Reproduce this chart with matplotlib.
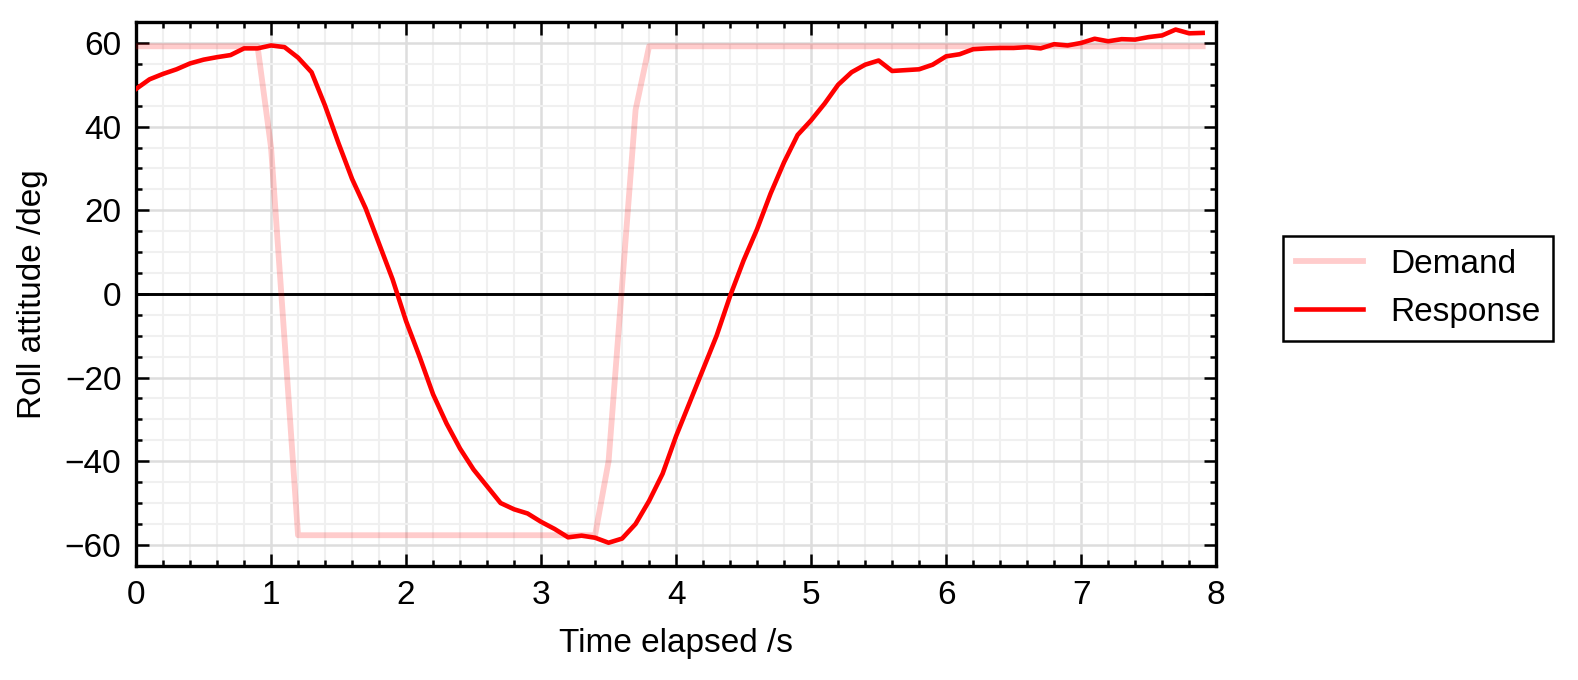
import numpy as np
import matplotlib
matplotlib.use("Agg")
import matplotlib.pyplot as plt
from matplotlib.ticker import MultipleLocator

# demand (setpoint) roll angle, deg
demand_t = [0.0, 0.9, 1.0, 1.1, 1.2, 3.4, 3.5, 3.6, 3.7, 3.8, 7.9]
demand_deg = [59.2, 59.2, 35.0, -11.0, -57.7, -57.7, -40.0, 2.0, 44.0, 59.2, 59.2]

# measured roll response, sampled every 0.1 s
response_t = [round(0.1 * i, 1) for i in range(80)]
response_deg = [
    49.0, 51.3, 52.6, 53.7, 55.1, 56.0, 56.6, 57.1, 58.7, 58.7,
    59.4, 59.0, 56.5, 53.0, 45.0, 36.0, 27.5, 20.5, 12.0, 3.5,
    -6.5, -15.0, -24.0, -31.0, -37.0, -42.0, -46.0, -50.0, -51.5, -52.5,
    -54.5, -56.2, -58.2, -57.8, -58.3, -59.5, -58.5, -55.0, -49.5, -43.0,
    -34.0, -26.0, -18.0, -10.0, -0.5, 8.0, 15.5, 24.0, 31.5, 38.0,
    41.5, 45.5, 50.0, 53.0, 54.8, 55.8, 53.3, 53.5, 53.7, 54.8,
    56.8, 57.3, 58.5, 58.7, 58.8, 58.8, 59.0, 58.7, 59.7, 59.4,
    60.0, 61.0, 60.4, 60.9, 60.8, 61.4, 61.8, 63.2, 62.3, 62.4,
]

plt.rcParams['font.family'] = ['Liberation Sans', 'DejaVu Sans']
plt.rcParams['font.size'] = 8

fig = plt.figure(figsize=(1578 / 300, 680 / 300), dpi=300)
ax = fig.add_axes([0.0862, 0.168, 0.6845, 0.7996])

ax.plot(demand_t, demand_deg, color='red', alpha=0.2, lw=1.4, label='Demand', zorder=3)
ax.plot(response_t, response_deg, color='red', lw=1.1, label='Response', zorder=4)
ax.axhline(0, color='black', lw=0.7, zorder=2)

ax.set_xlim(0, 8)
ax.set_ylim(-65, 65)
ax.xaxis.set_major_locator(MultipleLocator(1))
ax.xaxis.set_minor_locator(MultipleLocator(0.2))
ax.yaxis.set_major_locator(MultipleLocator(20))
ax.yaxis.set_minor_locator(MultipleLocator(5))

ax.grid(which='major', color='#dddddd', lw=0.6, zorder=0)
ax.grid(which='minor', color='#f0f0f0', lw=0.5, zorder=0)
ax.tick_params(which='both', direction='in', top=True, right=True, width=0.6)
ax.tick_params(which='major', length=3)
ax.tick_params(which='minor', length=1.5)
for s in ax.spines.values():
    s.set_linewidth(0.8)

ax.set_xlabel('Time elapsed /s')
ax.set_ylabel('Roll attitude /deg')

leg = ax.legend(loc='center left', bbox_to_anchor=(1.062, 0.51), borderaxespad=0,
                fancybox=False, edgecolor='black', framealpha=1)
leg.get_frame().set_linewidth(0.6)

fig.savefig('out.png', dpi=300)
